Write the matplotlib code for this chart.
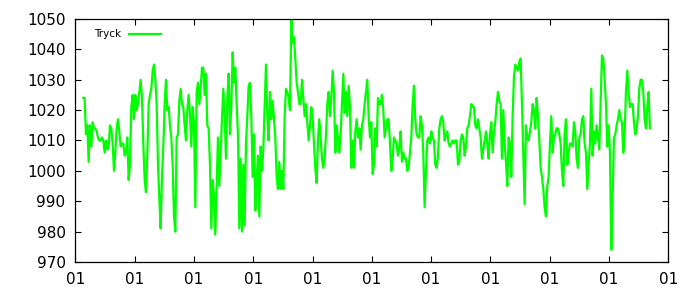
import numpy as np
import matplotlib
matplotlib.use('Agg')
from matplotlib import pyplot as plt

# pressure readings (hPa), evenly spaced in time
tryck_1 = [1024, 1024, 1012, 1015, 1003, 1015, 1008, 1016, 1014, 1014,
           1013, 1011, 1010, 1010, 1011, 1010, 1006, 1010, 1007, 1008,
           1015, 1014, 1009, 1000, 1006, 1014, 1017, 1013, 1008, 1009,
           1009, 1005, 1006, 1011, 997, 1002, 1021, 1025, 1017, 1025,
           1020, 1022, 1026, 1030, 1024, 1009, 997, 993, 1005, 1022,
           1025, 1027, 1033, 1035, 1030, 1022, 1002, 991, 981, 998,
           1008, 1022, 1030, 1020, 1021, 1015, 1011, 1002, 985, 980,
           1011, 1012, 1023]
tryck_2 = [1027, 1022, 1021, 1015, 1010, 1020, 1025, 1019, 1008, 1021,
           1016, 988, 1026, 1029, 1022, 1027, 1034, 1034, 1025, 1032,
           1015, 1014, 1002, 981, 997, 992, 979, 995, 1011, 995,
           1006, 1017, 1027, 1018, 1004, 1024, 1032, 1012, 1021, 1039,
           1029, 1034, 1022, 1012, 981, 1004, 980, 1002, 982, 1009,
           1018, 1028, 1029, 1018, 998, 1012, 987, 997, 1005, 985,
           1008, 1000, 1007, 1021, 1035, 1018, 1010, 1026, 1017, 1023,
           1017, 1011, 998, 994, 1003]
tryck_3 = [994, 1000, 994, 1018, 1027, 1026, 1024, 1020, 1050, 1042,
           1044, 1037, 1029, 1026, 1022, 1022, 1030, 1024, 1018, 1022,
           1016, 1010, 1015, 1021, 1018, 1009, 1001, 996, 1010, 1017,
           1011, 1004, 1001, 1004, 1012, 1022, 1026, 1018, 1024, 1033,
           1026, 1006, 1015, 1011, 1006, 1012, 1022, 1032, 1019, 1026,
           1018, 1028, 1021, 1001, 1010, 1001, 1013, 1017, 1011, 1014,
           1007, 1015, 1017, 1022, 1026, 1030, 1018, 1011, 1016, 999,
           1002, 1014, 1008, 1024, 1022]
tryck_4 = [1022, 1025, 1020, 1011, 1014, 1017, 1017, 1009, 1000, 1004,
           1011, 1010, 1009, 1005, 1008, 1013, 1003, 1006, 1004, 1004,
           1000, 1001, 1006, 1011, 1022, 1028, 1017, 1012, 1011, 1011,
           1018, 1015, 1006, 988, 1000, 1010, 1011, 1009, 1013, 1011,
           1010, 1002, 1001, 1005, 1014, 1017, 1018, 1016, 1010, 1012,
           1013, 1009, 1008, 1009, 1010, 1009, 1010, 1010, 1002, 1003,
           1010, 1012, 1011, 1005, 1008, 1014, 1015, 1018, 1022, 1021,
           1021, 1015, 1014, 1017, 1014]
tryck_5 = [1011, 1004, 1007, 1010, 1013, 1009, 1004, 1012, 1016, 1006,
           1013, 1016, 1022, 1026, 1023, 1022, 1004, 1020, 1009, 1003,
           995, 1011, 1009, 998, 1018, 1031, 1035, 1034, 1033, 1036,
           1037, 1022, 1005, 989, 1015, 1011, 1010, 1013, 1016, 1022,
           1020, 1014, 1024, 1018, 1010, 1001, 998, 994, 988, 985,
           995, 998, 1009, 1018, 1006, 1011, 1012, 1014, 1014, 1012,
           1009, 1000, 995, 1012, 1017, 1002, 1006, 1009, 1009, 1008,
           1016, 1013, 1004, 1001, 1011]
tryck_6 = [1012, 1017, 1018, 1009, 1006, 994, 1002, 1009, 1027, 1005,
           1013, 1009, 1015, 1011, 1007, 1022, 1038, 1037, 1030, 1022,
           1008, 1015, 1006, 974, 991, 1011, 1012, 1015, 1017, 1020,
           1017, 1016, 1006, 1012, 1026, 1033, 1026, 1021, 1022, 1022,
           1016, 1012, 1014, 1018, 1027, 1030, 1030, 1026, 1017, 1014,
           1021, 1026, 1014]

tryck = tryck_1 + tryck_2 + tryck_3 + tryck_4 + tryck_5 + tryck_6
x = np.arange(len(tryck))

x_min, x_max = -6, 438.75
y_ticks = [970, 980, 990, 1000, 1010, 1020, 1030, 1040, 1050]
x_ticks = np.linspace(x_min, x_max, 11)
x_labels = ['01'] * len(x_ticks)

fig = plt.figure(figsize=(7, 3), dpi=100)
ax = fig.add_axes([0.1076, 0.1267, 0.8471, 0.81])

ax.plot(x, tryck, color='#00ff00', lw=1.6, label='Tryck')

ax.set_xlim(x_min, x_max)
ax.set_ylim(970, 1050)
ax.set_xticks(x_ticks)
ax.set_xticklabels(x_labels)
ax.set_yticks(y_ticks)
ax.tick_params(direction='in', length=4.5, width=0.8, top=True, right=True,
               labelsize=11, colors='black')
ax.tick_params(axis='x', pad=7)
ax.tick_params(axis='y', pad=7)
for s in ax.spines.values():
    s.set_linewidth(0.9)

ax.legend(loc='upper left', bbox_to_anchor=(0.031, 0.958), frameon=False,
          markerfirst=False, fontsize=7.5, handlelength=3.1,
          handletextpad=0.8, borderpad=0, borderaxespad=0)

fig.savefig('out.png', dpi=100)
